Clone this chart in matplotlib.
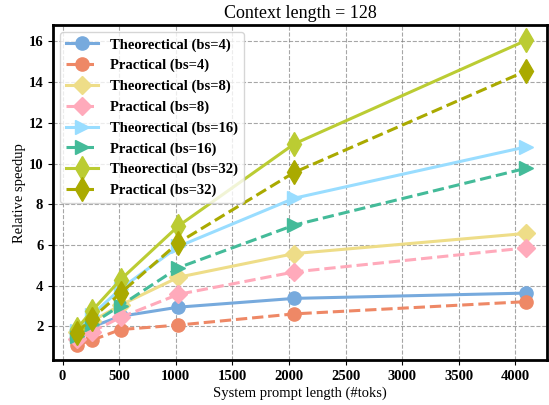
import numpy as np
import matplotlib.pyplot as plt

plt.rcParams['font.family'] = ['Liberation Serif', 'DejaVu Serif']

# System prompt lengths (x axis)
prompt_lens = [128, 256, 512, 1024, 2048, 4096]

# Relative speedup
theo_bs4 = [1.68, 1.98, 2.50, 2.95, 3.38, 3.64]
prac_bs4 = [1.10, 1.32, 1.85, 2.07, 2.62, 3.22]
theo_bs8 = [1.75, 2.25, 3.05, 4.42, 5.58, 6.57]
prac_bs8 = [1.38, 1.73, 2.45, 3.58, 4.68, 5.86]
theo_bs16 = [1.80, 2.55, 3.85, 5.93, 8.30, 10.82]
prac_bs16 = [1.52, 2.12, 3.03, 4.89, 6.98, 9.77]
theo_bs32 = [1.90, 2.75, 4.30, 6.94, 10.97, 16.05]
prac_bs32 = [1.70, 2.38, 3.64, 6.12, 9.57, 14.55]

series = [
    ('Theorectical (bs=4)', theo_bs4, '#77AADD', 'o', '-'),
    ('Practical (bs=4)', prac_bs4, '#EE8866', 'o', '--'),
    ('Theorectical (bs=8)', theo_bs8, '#EEDD88', 'D', '-'),
    ('Practical (bs=8)', prac_bs8, '#FFAABB', 'D', '--'),
    ('Theorectical (bs=16)', theo_bs16, '#99DDFF', '>', '-'),
    ('Practical (bs=16)', prac_bs16, '#44BB99', '>', '--'),
    ('Theorectical (bs=32)', theo_bs32, '#BBCC33', 'd', '-'),
    ('Practical (bs=32)', prac_bs32, '#AAAA00', 'd', '--'),
]
marker_sizes = {'o': 9.5, 'D': 9, '>': 10, 'd': 12}

fig, ax = plt.subplots(figsize=(5.49, 4.05), dpi=100)
fig.subplots_adjust(left=0.0965, right=0.997, top=0.938, bottom=0.111)

for label, vals, color, marker, ls in series:
    ax.plot(prompt_lens, vals, linestyle=ls, marker=marker, color=color,
            linewidth=2.2, markersize=marker_sizes[marker], label=label)

ax.set_xlim(-85, 4283)
ax.set_title('Context length = 128', fontsize=13, pad=5)
ax.set_xlabel('System prompt length (#toks)', fontsize=10.5, labelpad=3)
ax.set_ylabel('Relative speedup', fontsize=10.5, labelpad=2)
ax.set_xticks([0, 500, 1000, 1500, 2000, 2500, 3000, 3500, 4000])
ax.set_yticks([2, 4, 6, 8, 10, 12, 14, 16])
for t in ax.get_xticklabels() + ax.get_yticklabels():
    t.set_fontweight('bold')
    t.set_fontsize(10.5)
ax.grid(True, linestyle='--', color='gray', alpha=0.7, linewidth=0.8)
for s in ax.spines.values():
    s.set_linewidth(2)
    s.set_color('black')

leg = ax.legend(loc='upper left', prop={'weight': 'bold', 'size': 10.5},
                handlelength=2.2, labelspacing=0.5, borderpad=0.4)

plt.savefig('out.png', dpi=100)
